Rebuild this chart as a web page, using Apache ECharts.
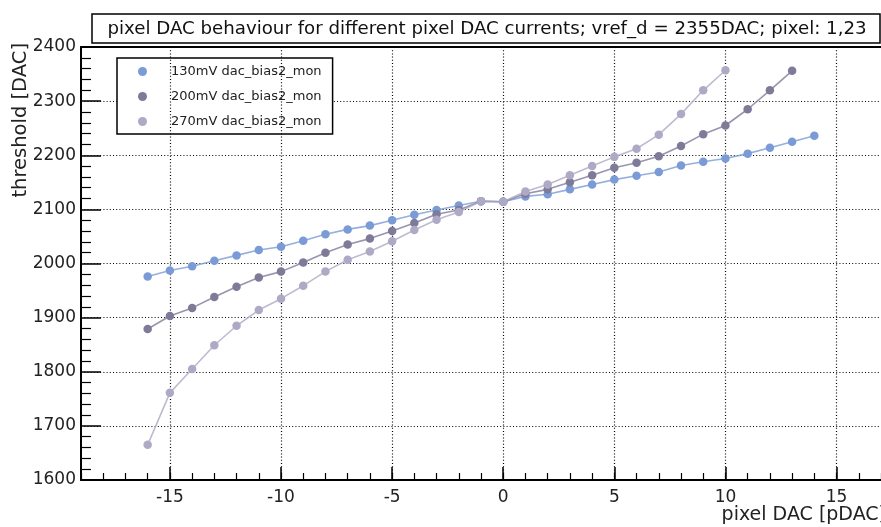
<!DOCTYPE html>
<html><head><meta charset="utf-8">
<script src="https://cdn.jsdelivr.net/npm/echarts@6/dist/echarts.min.js"></script>
<style>html,body{margin:0;padding:0;background:#fff}#c{width:881px;height:527px}</style>
</head><body><div id="c"></div>
<script>
const titleText = 'pixel DAC behaviour for different pixel DAC currents; vref_d = 2355DAC; pixel: 1,23';
const xAxisName = 'pixel DAC [pDAC]';
const yAxisName = 'threshold [DAC]';
const seriesNames = ['130mV dac_bias2_mon', '200mV dac_bias2_mon', '270mV dac_bias2_mon'];
const seriesColors = ['#7a9bd6', '#7e7b99', '#aeaac6'];

const x130 = [-16,-15,-14,-13,-12,-11,-10,-9,-8,-7,-6,-5,-4,-3,-2,-1,0,1,2,3,4,5,6,7,8,9,10,11,12,13,14];
const y130 = [1976,1987,1995,2005,2015,2025,2031,2042,2054,2063,2070,2080,2090,2099,2107,2115,2114,2124,2128,2137,2146,2155,2162,2169,2181,2188,2194,2203,2214,2225,2236];
const x200 = [-16,-15,-14,-13,-12,-11,-10,-9,-8,-7,-6,-5,-4,-3,-2,-1,0,1,2,3,4,5,6,7,8,9,10,11,12,13];
const y200 = [1879,1903,1918,1938,1957,1974,1985,2002,2020,2035,2046,2060,2075,2091,2099,2115,2114,2129,2137,2150,2163,2177,2186,2198,2217,2239,2255,2285,2320,2356];
const x270 = [-16,-15,-14,-13,-12,-11,-10,-9,-8,-7,-6,-5,-4,-3,-2,-1,0,1,2,3,4,5,6,7,8,9,10];
const y270 = [1665,1761,1805,1849,1885,1914,1935,1959,1985,2007,2022,2041,2062,2081,2095,2115,2114,2133,2146,2163,2180,2197,2212,2238,2276,2320,2357];

const xMajorTicks = [-15,-10,-5,0,5,10,15];
const xMin = -19, xMax = 17;
const yMin = 1600, yMax = 2400, yStep = 100;

const FONT = 'DejaVu Sans';
const pairs = (xs, ys) => xs.map((x, i) => [x, ys[i]]);
const allX = [x130, x200, x270];
const allY = [y130, y200, y270];

const chart = echarts.init(document.getElementById('c'), null, {renderer: 'canvas'});
const series = seriesNames.map((name, i) => ({
  name, type: 'line', xAxisIndex: 0, yAxisIndex: 0,
  data: pairs(allX[i], allY[i]),
  symbol: 'circle', symbolSize: 8.5,
  itemStyle: {color: seriesColors[i]},
  lineStyle: {color: seriesColors[i], width: 1.6, opacity: 0.8},
  z: 5 + i,
  animation: false
}));
series[0].markLine = {
  silent: true, symbol: ['none', 'none'], animation: false,
  label: {show: false},
  lineStyle: {color: '#000', type: [1, 2.2], width: 1.2},
  data: xMajorTicks.map(v => ({xAxis: v}))
};

chart.setOption({
  animation: false,
  grid: {left: 81, right: 0, top: 47, bottom: 47},
  legend: {
    data: seriesNames, orient: 'vertical', left: 117, top: 58,
    icon: 'circle', itemWidth: 9, itemHeight: 9, itemGap: 12,
    padding: [7, 11, 6, 21],
    borderColor: '#000', borderWidth: 1.5, backgroundColor: '#fff',
    textStyle: {fontFamily: FONT, fontSize: 13, color: '#222', padding: [0, 0, 0, 19]}
  },
  xAxis: [
    {type: 'value', min: xMin, max: xMax, position: 'bottom',
     axisLine: {show: true, onZero: false, lineStyle: {color: '#000', width: 2}},
     axisTick: {show: true, inside: true, length: 13, customValues: xMajorTicks, lineStyle: {color: '#000', width: 1.5}},
     axisLabel: {customValues: xMajorTicks, fontFamily: FONT, fontSize: 17, color: '#222', margin: 9},
     splitLine: {show: false}},
    {type: 'value', min: xMin, max: xMax, interval: 1, position: 'bottom',
     axisLine: {show: false},
     axisTick: {show: true, inside: true, length: 7, lineStyle: {color: '#000', width: 1.2}},
     axisLabel: {show: false}, splitLine: {show: false}},
    {type: 'value', min: xMin, max: xMax, position: 'top',
     axisLine: {show: true, onZero: false, lineStyle: {color: '#000', width: 2}},
     axisTick: {show: false}, axisLabel: {show: false}, splitLine: {show: false}}
  ],
  yAxis: [{
    type: 'value', min: yMin, max: yMax, interval: yStep,
    axisLine: {show: true, onZero: false, lineStyle: {color: '#000', width: 2}},
    axisTick: {show: true, inside: true, length: 20, lineStyle: {color: '#000', width: 1.5}},
    minorTick: {show: true, splitNumber: 5, length: 10, lineStyle: {color: '#000', width: 1.2}},
    axisLabel: {fontFamily: FONT, fontSize: 17, color: '#222', margin: 5, formatter: v => String(v)},
    splitLine: {show: true, lineStyle: {color: '#000', type: [1, 2.2], width: 1.2}}
  }],
  graphic: [
    {type: 'rect', shape: {x: 92, y: 14, width: 788, height: 29}, style: {fill: '#fff', stroke: '#000', lineWidth: 1.5}, z: 10},
    {type: 'text', x: 487, y: 29, style: {text: titleText, font: '18.2px "DejaVu Sans"', fill: '#111', textAlign: 'center', textVerticalAlign: 'middle'}, z: 11},
    {type: 'text', x: 886, y: 515, style: {text: xAxisName, font: '19px "DejaVu Sans"', fill: '#222', textAlign: 'right', textVerticalAlign: 'middle'}, z: 11},
    {type: 'text', x: 21, y: 43, rotation: Math.PI / 2, style: {text: yAxisName, font: '19.5px "DejaVu Sans"', fill: '#222', textAlign: 'right', textVerticalAlign: 'middle'}, z: 11}
  ],
  series
});
</script></body></html>
